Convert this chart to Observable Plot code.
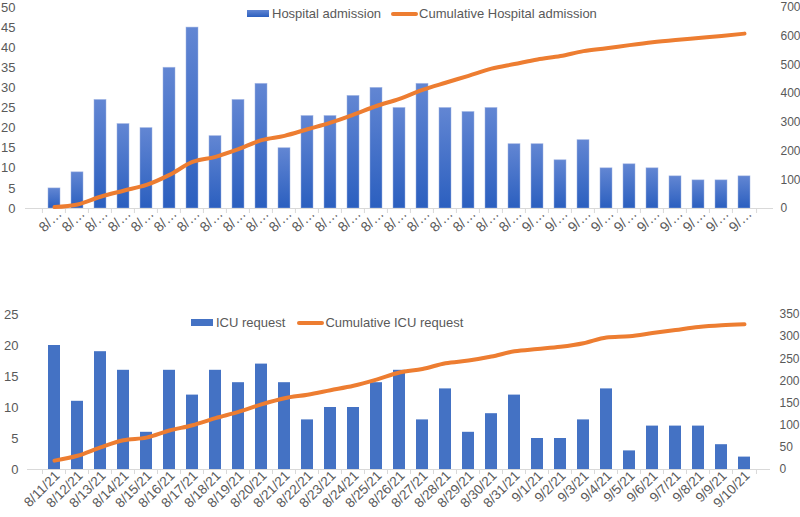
<!DOCTYPE html>
<html>
<head>
<meta charset="utf-8">
<script src="https://cdn.jsdelivr.net/npm/d3@7"></script>
<script src="https://cdn.jsdelivr.net/npm/@observablehq/plot@0.6"></script>
<style>
  html, body { margin: 0; padding: 0; background: #fff; }
  #wrap { position: relative; width: 800px; height: 517px; overflow: hidden; font-family: "Liberation Sans", Arial, sans-serif; }
  .panel { position: absolute; left: 0; }
  .legend { position: absolute; display: flex; align-items: center; font-size: 13px; line-height: 15px; color: #595959; white-space: nowrap; }
  .legend .sw-bar { display: inline-block; width: 22px; height: 7px; margin-right: 3px; }
  .legend .sw-line { display: inline-block; width: 27px; height: 4px; background: #ED7D31; border-radius: 2px; margin-right: 1px; }
  .legend .item { display: flex; align-items: center; }
</style>
</head>
<body>
<div id="wrap"></div>
<script>
// ---- Data ----
const dates = ["8/11/21","8/12/21","8/13/21","8/14/21","8/15/21","8/16/21","8/17/21","8/18/21","8/19/21","8/20/21",
  "8/21/21","8/22/21","8/23/21","8/24/21","8/25/21","8/26/21","8/27/21","8/28/21","8/29/21","8/30/21",
  "8/31/21","9/1/21","9/2/21","9/3/21","9/4/21","9/5/21","9/6/21","9/7/21","9/8/21","9/9/21","9/10/21"];
const hospital = [5, 9, 27, 21, 20, 35, 45, 18, 27, 31, 15, 23, 23, 28, 30, 25, 31, 25, 24, 25, 16, 16, 12, 17, 10, 11, 10, 8, 7, 7, 8];
const hospitalCum = [5, 14, 41, 62, 82, 117, 162, 180, 207, 238, 253, 276, 299, 327, 357, 382, 413, 438, 462, 487, 503, 519, 531, 548, 558, 569, 579, 587, 594, 601, 609];
const icu = [20, 11, 19, 16, 6, 16, 12, 16, 14, 17, 14, 8, 10, 10, 14, 16, 8, 13, 6, 9, 12, 5, 5, 8, 13, 3, 7, 7, 7, 4, 2];
const icuCum = [20, 31, 50, 66, 72, 88, 100, 116, 130, 147, 161, 169, 179, 189, 203, 219, 227, 240, 246, 255, 267, 272, 277, 285, 298, 301, 308, 315, 322, 326, 328];
const leftTicksTop = [0, 5, 10, 15, 20, 25, 30, 35, 40, 45, 50];
const rightTicksTop = [0, 100, 200, 300, 400, 500, 600, 700];
const leftTicksBot = [0, 5, 10, 15, 20, 25];
const rightTicksBot = [0, 50, 100, 150, 200, 250, 300, 350];
const ratio = 14; // right axis / left axis

const rowsTop = dates.map((d, i) => ({date: d, v: hospital[i], c: hospitalCum[i]}));
const rowsBot = dates.map((d, i) => ({date: d, v: icu[i], c: icuCum[i]}));

const grey = "#595959";
const axisGrey = "#d9d9d9";
const orange = "#ED7D31";

function panel({rows, height, marginTop, marginBottom, marginLeft, marginRight, yMax, leftTicks, rightTicks, fill, stroke,
                leftFont, leftPad, rightFont, rightPad, xFont, xPad, xDx, xFormat}) {
  const bw = (800 - marginLeft - marginRight) / dates.length;
  const tickLen = 5 * yMax / (height - marginTop - marginBottom);
  return Plot.plot({
    width: 800, height, marginTop, marginBottom, marginLeft, marginRight,
    style: {fontFamily: "Liberation Sans, Arial, sans-serif", color: grey, background: "white", overflow: "visible"},
    x: {domain: dates, padding: 0.5, label: null},
    y: {domain: [0, yMax], label: null},
    marks: [
      Plot.barY(rows, {x: "date", y: "v", fill, stroke, strokeWidth: 0.8, strokeOpacity: 0.6}),
      Plot.ruleY([0], {stroke: axisGrey, strokeWidth: 1}),
      Plot.ruleX(rows, {x: "date", y1: 0, y2: -tickLen, dx: -bw / 2, stroke: axisGrey}),
      Plot.ruleX(rows.slice(-1), {x: "date", y1: 0, y2: -tickLen, dx: bw / 2, stroke: axisGrey}),
      Plot.axisY({anchor: "left", ticks: leftTicks, tickSize: 0, tickPadding: leftPad, fontSize: leftFont, fill: grey, label: null}),
      Plot.axisY({anchor: "right", ticks: rightTicks.map(t => t / ratio), tickFormat: d => String(Math.round(d * ratio)), tickSize: 0, tickPadding: rightPad, fontSize: rightFont, fill: grey, label: null}),
      Plot.axisX({tickSize: 0, tickPadding: xPad, tickRotate: -45, tickFormat: xFormat, fontSize: xFont, dx: xDx, fill: grey, label: null}),
      Plot.lineY(rows, {x: "date", y: d => d.c / ratio, stroke: orange, strokeWidth: 4, curve: "monotone-x", strokeLinecap: "round", strokeLinejoin: "round"})
    ]
  });
}

const wrap = document.getElementById("wrap");

// Top panel
const topChart = panel({
  rows: rowsTop, height: 245, marginTop: 7, marginBottom: 37, marginLeft: 25, marginRight: 27,
  yMax: 50, leftTicks: leftTicksTop, rightTicks: rightTicksTop,
  fill: "url(#barGrad)", stroke: "#9fb3e3",
  leftFont: 13, leftPad: 10, rightFont: 12, rightPad: 7,
  xFont: 14, xPad: 3, xDx: 5,
  xFormat: d => d.slice(0, 2) + "\u2026"
});
const defs = d3.select(topChart).insert("defs", ":first-child");
const grad = defs.append("linearGradient").attr("id", "barGrad").attr("x1", 0).attr("y1", 0).attr("x2", 0).attr("y2", 1);
grad.append("stop").attr("offset", "0%").attr("stop-color", "#6286d3");
grad.append("stop").attr("offset", "100%").attr("stop-color", "#2b5fbf");
topChart.classList.add("panel");
topChart.style.top = "0px";
wrap.appendChild(topChart);

// Bottom panel
const botChart = panel({
  rows: rowsBot, height: 217, marginTop: 14, marginBottom: 48, marginLeft: 27, marginRight: 30,
  yMax: 25, leftTicks: leftTicksBot, rightTicks: rightTicksBot,
  fill: "#4472C4", stroke: "none",
  leftFont: 13, leftPad: 9, rightFont: 12, rightPad: 9,
  xFont: 13.5, xPad: 4, xDx: 3,
  xFormat: d => d
});
botChart.classList.add("panel");
botChart.style.top = "300px";
wrap.appendChild(botChart);

// Legends
function legend(left, topPx, label1, label2, barBg, gap) {
  const el = document.createElement("div");
  el.className = "legend";
  el.style.left = left + "px";
  el.style.top = topPx + "px";
  el.innerHTML = `<span class="item"><span class="sw-bar" style="background:${barBg}"></span>${label1}</span>` +
    `<span class="item" style="margin-left:${gap}px"><span class="sw-line"></span>${label2}</span>`;
  wrap.appendChild(el);
}
legend(247, 6, "Hospital admission", "Cumulative Hospital admission", "linear-gradient(#6286d3,#2b5fbf)", 10);
legend(191, 315, "ICU request", "Cumulative ICU request", "#4472C4", 12);
</script>
</body>
</html>
